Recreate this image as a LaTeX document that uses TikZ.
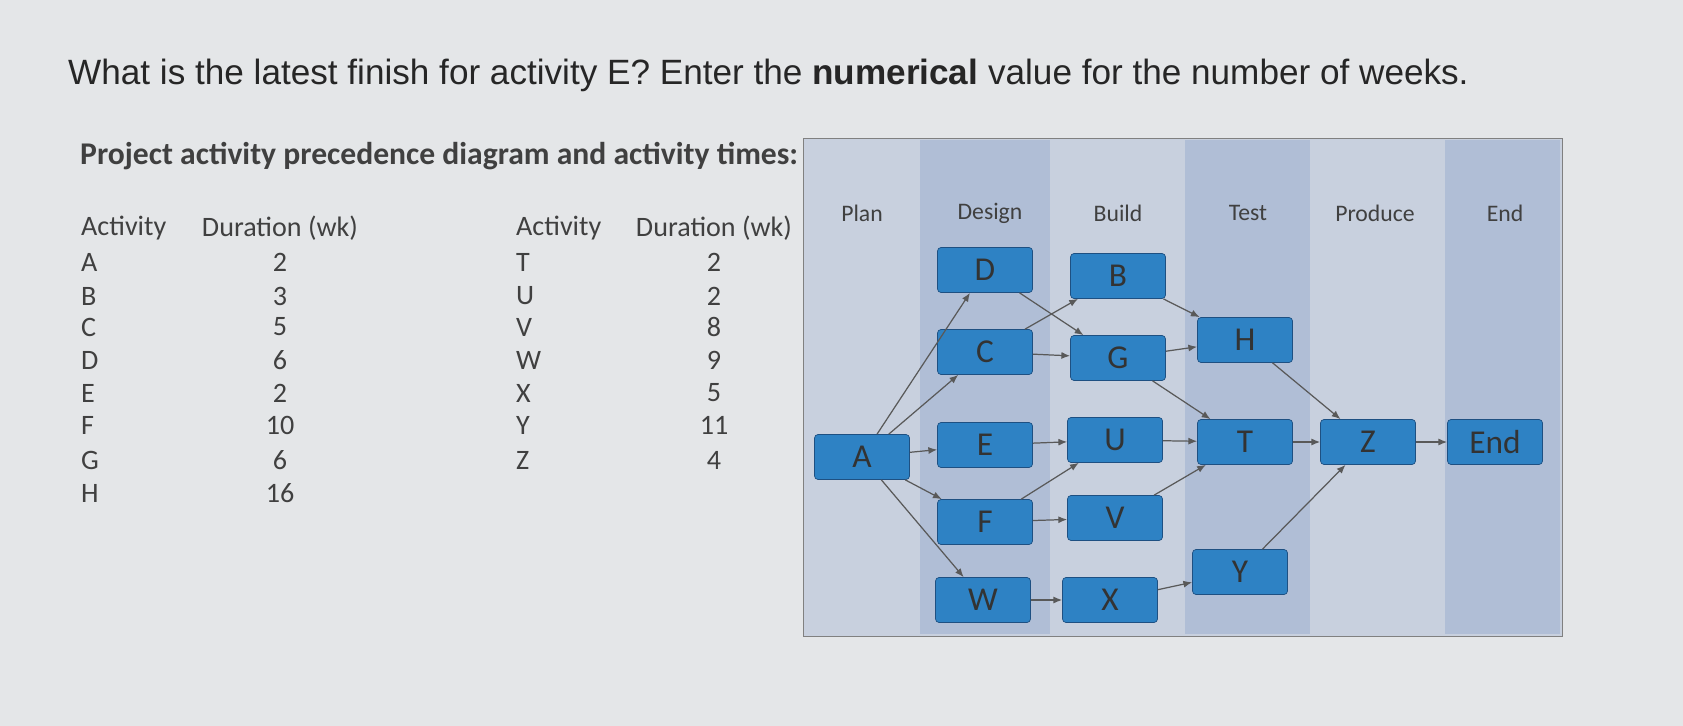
\documentclass[tikz,border=0pt]{standalone}
\usepackage{fontspec}
\setmainfont{Liberation Sans}
\newfontfamily\calfont{Carlito}
\usetikzlibrary{arrows.meta}
\definecolor{bg}{RGB}{228,230,232}
\definecolor{panel}{RGB}{200,208,222}
\definecolor{band}{RGB}{176,190,214}
\definecolor{boxf}{RGB}{46,130,196}
\definecolor{boxd}{RGB}{30,80,130}
\tikzset{
 act/.style={draw=boxd,fill=boxf,rounded corners=2pt,minimum width=1.9cm,minimum height=0.9cm,font=\calfont\fontsize{19}{19}\selectfont,text=black!80},
 lnk/.style={draw=black!65,line width=0.7pt,-{Latex[length=5pt,width=4pt]}},
 tb/.style={font=\calfont\fontsize{16}{16}\selectfont,text=black!75},
 ph/.style={font=\calfont\fontsize{13.5}{14}\selectfont,text=black!75}
}
\begin{document}
\begin{tikzpicture}[x=0.02cm,y=-0.02cm]
\fill[bg] (0,0) rectangle (1683,726);
\node[anchor=west,font=\fontsize{20}{20}\selectfont,text=black!85] (title) at (62,75) {What is the latest finish for activity E? Enter the \textbf{numerical} value for the number of weeks.};
\node[anchor=west,font=\calfont\bfseries\fontsize{18}{18}\selectfont,text=black!75] (sub) at (74,156) {Project activity precedence diagram and activity times:};
% table
\foreach \a/\d/\y in {Activity/Duration (wk)/228,A/2/262,B/3/296,C/5/327,D/6/360,E/2/393,F/10/425,G/6/460,H/16/493}{
 \node[tb,anchor=west] at (75,\y) {\a};
 \node[tb] at (280,\y) {\d};}
\foreach \a/\d/\y in {Activity/Duration (wk)/228,T/2/262,U/2/296,V/8/327,W/9/360,X/5/393,Y/11/425,Z/4/460}{
 \node[tb,anchor=west] at (510,\y) {\a};
 \node[tb] at (714,\y) {\d};}
% panel
\fill[panel] (803,138) rectangle (1562,636);
\foreach \l/\r in {920/1050,1185/1310,1445/1560}{\fill[band] (\l,140) rectangle (\r,634);}
\draw[black!50] (803,138) rectangle (1562,636);
\foreach \t/\x in {Plan/862,Design/990,Build/1118,Test/1248,Produce/1375,End/1505}{\node[ph] at (\x,213) {\t};}
% nodes
\node[act] (A) at (862,457) {A};
\node[act] (D) at (985,270) {D};
\node[act] (C) at (985,352) {C};
\node[act] (E) at (985,445) {E};
\node[act] (F) at (985,522) {F};
\node[act] (W) at (983,600) {W};
\node[act] (B) at (1118,276) {B};
\node[act] (G) at (1118,358) {G};
\node[act] (U) at (1115,440) {U};
\node[act] (V) at (1115,518) {V};
\node[act] (X) at (1110,600) {X};
\node[act] (H) at (1245,340) {H};
\node[act] (T) at (1245,442) {T};
\node[act] (Y) at (1240,572) {Y};
\node[act] (Z) at (1368,442) {Z};
\node[act] (End) at (1495,442) {End};
% links
\foreach \s/\t in {A/D,A/C,A/E,A/F,A/W,D/G,C/B,C/G,E/U,F/U,F/V,B/H,G/H,G/T,U/T,V/T,H/Z,T/Z,Y/Z,W/X,X/Y,Z/End}{\draw[lnk] (\s) -- (\t);}
\end{tikzpicture}
\end{document}
